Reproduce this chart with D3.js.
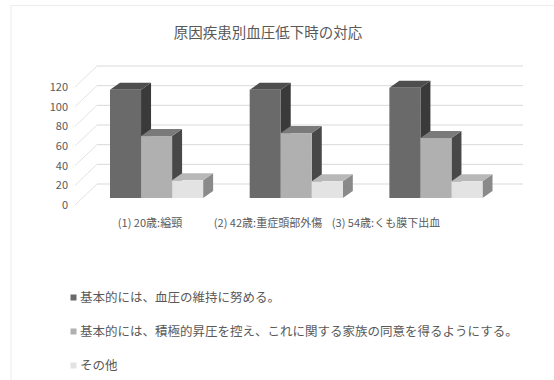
<!DOCTYPE html>
<html><head><meta charset="utf-8">
<script src="https://cdn.jsdelivr.net/npm/d3@7/dist/d3.min.js"></script>
<style>
body{margin:0;background:#fff;}
text{font-family:"Noto Sans CJK JP","Noto Sans",sans-serif;fill:#595959;}
</style></head>
<body><svg id="c" width="554" height="380"></svg>
<script>
const title = "原因疾患別血圧低下時の対応";
const categories = ["(1) 20歳:縊頸", "(2) 42歳:重症頭部外傷", "(3) 54歳:くも膜下出血"];
const seriesNames = ["基本的には、血圧の維持に努める。", "基本的には、積極的昇圧を控え、これに関する家族の同意を得るようにする。", "その他"];
const series1 = [110, 110, 112];
const series2 = [63, 66, 61];
const series3 = [18, 17, 17];
const yTicks = [0, 20, 40, 60, 80, 100, 120];

const values = [series1, series2, series3];
const faceColors = [
  {front:"#6a6a6a", side:"#3a3a3a", top:"#4e4e4e"},
  {front:"#b0b0b0", side:"#484848", top:"#7a7a7a"},
  {front:"#e3e3e3", side:"#8a8a8a", top:"#b8b8b8"}
];

const svg = d3.select("#c");
svg.append("path").attr("d","M11,380V5.5H554").attr("fill","none").attr("stroke","#ececec").attr("stroke-width",1);

svg.append("text").attr("x",268).attr("y",38).attr("text-anchor","middle")
  .style("font-size","14.5px").text(title);

const y = d3.scaleLinear().domain([0,120]).range([205,87]);
const wallDx = 22, wallDy = -21;
const wallLeft = 75, wallRight = 523;
const barShiftY = -7;
const bdx = 10, bdy = -7;

const g = svg.append("g");
yTicks.forEach(t => {
  g.append("line").attr("x1",wallLeft+wallDx).attr("x2",wallRight)
    .attr("y1",y(t)+wallDy).attr("y2",y(t)+wallDy)
    .attr("stroke","#d9d9d9").attr("stroke-width",1);
  g.append("line").attr("x1",wallLeft).attr("x2",wallLeft+wallDx)
    .attr("y1",y(t)).attr("y2",y(t)+wallDy)
    .attr("stroke","#e3e3e3").attr("stroke-width",1);
  g.append("text").attr("x",68).attr("y",y(t)+4).attr("text-anchor","end")
    .style("font-size","11px").text(t);
});

const x0 = d3.scaleBand().domain(categories).range([110,482.5]).paddingInner(1/3).paddingOuter(0);
const x1 = d3.scaleBand().domain(d3.range(3)).range([0,x0.bandwidth()]);
categories.forEach((c,ci) => {
  const gg = svg.append("g");
  values.forEach((vals,si) => {
    const xl = x0(c)+x1(si), w = x1.bandwidth();
    const yt = y(vals[ci])+barShiftY, yb = y(0)+barShiftY;
    const col = faceColors[si];
    gg.append("polygon").attr("points",[[xl+w,yt],[xl+w+bdx,yt+bdy],[xl+w+bdx,yb+bdy],[xl+w,yb]].join(" "))
      .attr("fill",col.side);
    gg.append("polygon").attr("points",[[xl,yt],[xl+bdx,yt+bdy],[xl+w+bdx,yt+bdy],[xl+w,yt]].join(" "))
      .attr("fill",col.top);
    gg.append("rect").attr("x",xl).attr("y",yt).attr("width",w).attr("height",yb-yt)
      .attr("fill",col.front);
  });
});

const xl = d3.scaleBand().domain(categories).range([91,445]);
categories.forEach(c => {
  svg.append("text").attr("x",xl(c)+xl.bandwidth()/2).attr("y",226.5).attr("text-anchor","middle")
    .style("font-size","11px").text(c);
});

const ly = d3.scalePoint().domain(seriesNames).range([297,365]);
seriesNames.forEach((n,i) => {
  svg.append("rect").attr("x",70.5).attr("y",ly(n)-2.5).attr("width",6).attr("height",6)
    .attr("fill",faceColors[i].front);
  svg.append("text").attr("x",80).attr("y",ly(n)+4.5).style("font-size","12.5px").text(n);
});
</script></body></html>
